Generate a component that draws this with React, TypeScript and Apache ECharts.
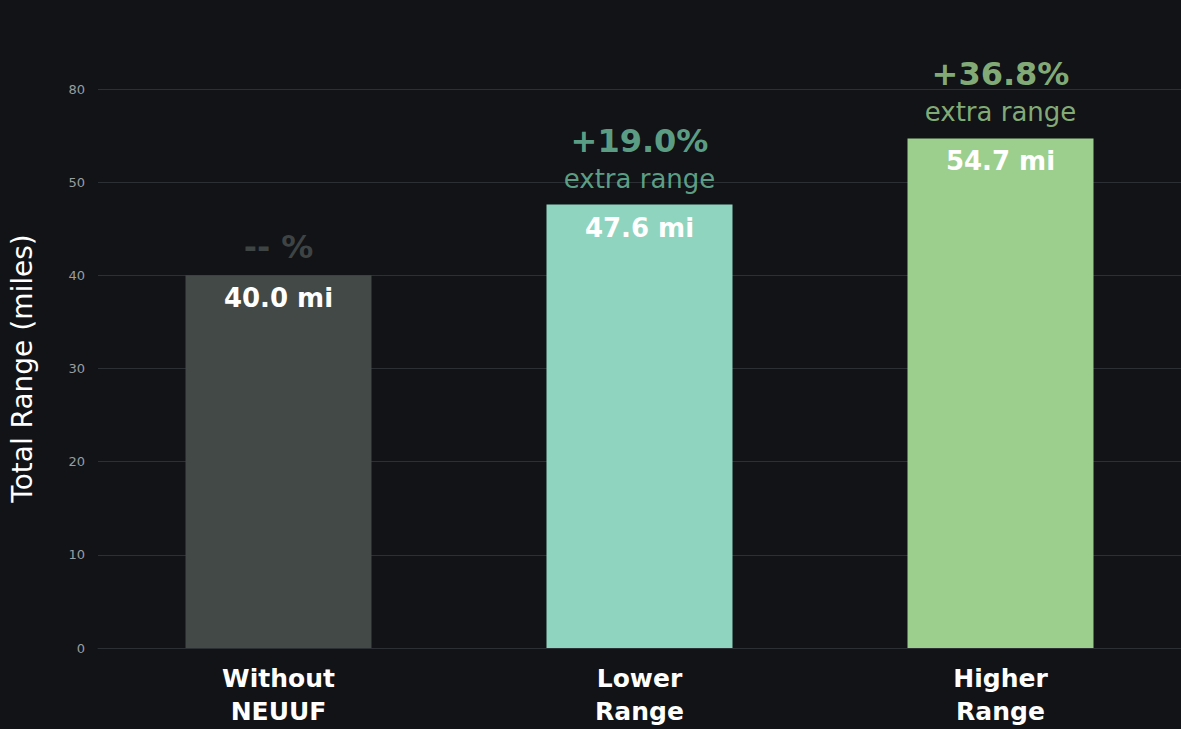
import React, { useEffect, useRef } from "react";
import * as echarts from "echarts";

const categories = ["Without\nNEUUF", "Lower\nRange", "Higher\nRange"];
const rangeMiles = [40.0, 47.6, 54.7];
const percentLabels = ["-- %", "+19.0%", "+36.8%"];
const extraLabels = ["", "extra range", "extra range"];
const barColors = ["#434947", "#8fd4bf", "#9ccf8e"];
const percentColors = ["#4b5151", "#70c4a4", "#a2d593"];
const yTickLabels: Record<number, string> = { 0: "0", 10: "10", 20: "20", 30: "30", 40: "40", 50: "50", 60: "80" };

const FONT = "'DejaVu Sans', 'Noto Sans', sans-serif";

export default function App() {
  const ref = useRef<HTMLDivElement>(null);
  useEffect(() => {
    if (!ref.current) return;
    const chart = echarts.init(ref.current, null, { renderer: "svg" });
    chart.setOption({
      animation: false,
      backgroundColor: "#111316",
      grid: { left: 95, right: -4, top: 89, bottom: 81 },
      xAxis: {
        type: "category",
        data: categories,
        axisTick: { show: false },
        axisLine: { lineStyle: { color: "#2c2f33", width: 1 } },
        axisLabel: {
          color: "#ffffff",
          fontFamily: FONT,
          fontWeight: 700,
          fontSize: 25,
          lineHeight: 33,
          margin: 14,
        },
      },
      yAxis: {
        type: "value",
        min: 0,
        max: 60,
        interval: 10,
        name: "Total Range (miles)",
        nameLocation: "middle",
        nameGap: 62,
        nameTextStyle: { color: "#ffffff", fontFamily: FONT, fontSize: 28 },
        axisLine: { show: false },
        axisTick: { show: false },
        splitLine: { lineStyle: { color: "#2c2f33", width: 1 } },
        axisLabel: {
          color: "#9a9da0",
          fontFamily: FONT,
          fontSize: 13,
          margin: 13,
          formatter: (v: number) => yTickLabels[v] ?? String(v),
        },
      },
      series: [
        {
          type: "bar",
          barWidth: 186,
          data: rangeMiles.map((v, i) => ({ value: v, itemStyle: { color: barColors[i] } })),
          label: {
            show: true,
            position: "insideTop",
            distance: 10,
            color: "#ffffff",
            fontFamily: FONT,
            fontWeight: 700,
            fontSize: 26,
            formatter: (p: any) => `${p.value.toFixed(1)} mi`,
          },
        },
        {
          type: "scatter",
          symbolSize: 0,
          data: rangeMiles.map((v, i) => ({
            value: v,
            label: {
              rich: {
                p: { color: percentColors[i], fontSize: 32, fontWeight: 700, fontFamily: FONT, lineHeight: 40 },
                e: { color: percentColors[i], fontSize: 26, fontWeight: 400, fontFamily: FONT, lineHeight: 36 },
              },
            },
          })),
          label: {
            show: true,
            position: "top",
            distance: 8,
            formatter: (p: any) => {
              const i = p.dataIndex;
              return extraLabels[i] ? `{p|${percentLabels[i]}}\n{e|${extraLabels[i]}}` : `{p|${percentLabels[i]}}`;
            },
          },
        },
      ],
    });
    return () => chart.dispose();
  }, []);
  return <div ref={ref} style={{ position: "fixed", left: 0, top: 0, width: 1181, height: 729 }} />;
}
